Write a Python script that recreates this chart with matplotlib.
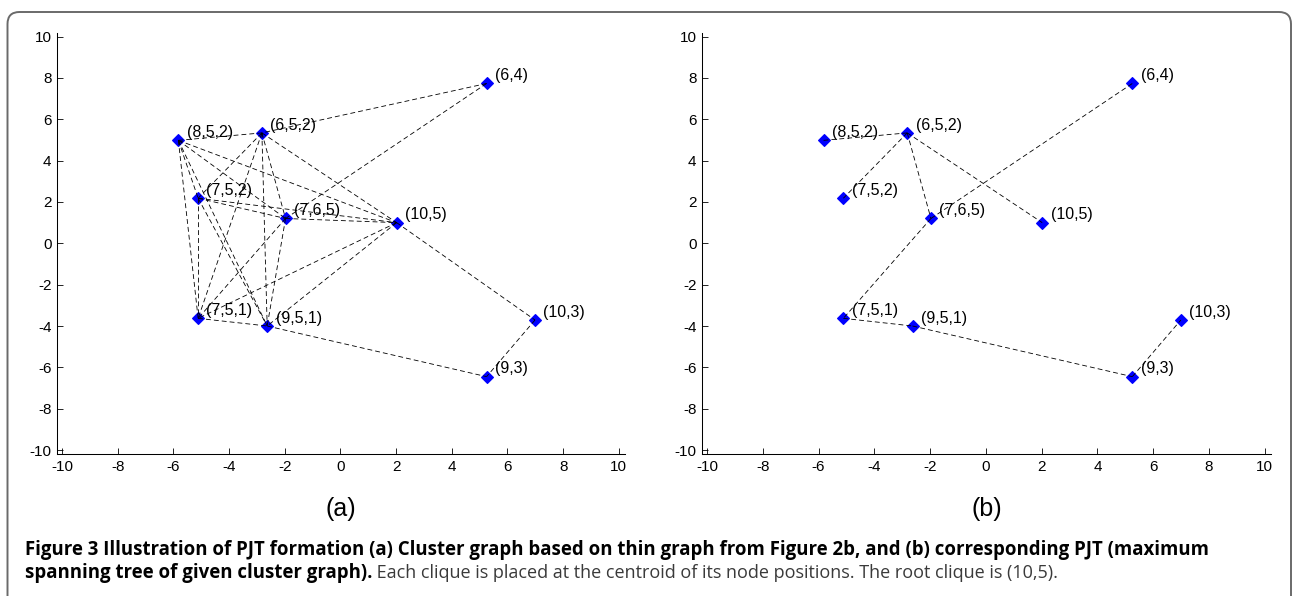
import itertools
import matplotlib
matplotlib.use("Agg")
import matplotlib.pyplot as plt
from matplotlib.patches import FancyBboxPatch
from matplotlib.transforms import IdentityTransform

plt.rcParams['font.family'] = ['Liberation Sans', 'DejaVu Sans']
plt.rcParams['lines.scale_dashes'] = False
plt.rcParams['axes.unicode_minus'] = False

# clique labels and their centroid positions
cliques = ['(8,5,2)', '(6,5,2)', '(7,5,2)', '(7,6,5)', '(10,5)',
           '(6,4)', '(7,5,1)', '(9,5,1)', '(10,3)', '(9,3)']
pos_x = [-5.82, -2.82, -5.11, -1.97, 2.02, 5.25, -5.11, -2.63, 6.99, 5.25]
pos_y = [4.98, 5.34, 2.18, 1.20, 1.00, 7.73, -3.63, -4.00, -3.71, -6.45]

# cluster graph: cliques sharing variable 5 are all linked, plus a few others
share5 = ['(8,5,2)', '(6,5,2)', '(7,5,2)', '(7,6,5)', '(10,5)', '(7,5,1)', '(9,5,1)']
edges_a = list(itertools.combinations(share5, 2)) + [
    ('(6,4)', '(6,5,2)'), ('(6,4)', '(7,6,5)'), ('(10,5)', '(10,3)'),
    ('(10,3)', '(9,3)'), ('(9,5,1)', '(9,3)')]

# maximum spanning tree
edges_b = [('(8,5,2)', '(6,5,2)'), ('(6,5,2)', '(7,5,2)'), ('(6,5,2)', '(7,6,5)'),
           ('(6,5,2)', '(10,5)'), ('(7,6,5)', '(6,4)'), ('(7,6,5)', '(7,5,1)'),
           ('(7,5,1)', '(9,5,1)'), ('(9,5,1)', '(9,3)'), ('(9,3)', '(10,3)')]

ticks = [-10, -8, -6, -4, -2, 0, 2, 4, 6, 8, 10]
idx = {c: i for i, c in enumerate(cliques)}

fig = plt.figure(figsize=(12.92, 5.96), dpi=100)
ax_a = fig.add_axes([0.0441, 0.2383, 0.4396, 0.7059])
ax_b = fig.add_axes([0.5433, 0.2383, 0.4404, 0.7059])


def draw(ax, edges, label):
    ax.plot(pos_x, pos_y, linestyle='none', marker='D', ms=6.2,
            mfc='#0000ff', mec='#0000ff', mew=0.8, zorder=2)
    for a, b in edges:
        i, j = idx[a], idx[b]
        ax.plot([pos_x[i], pos_x[j]], [pos_y[i], pos_y[j]], color='black',
                lw=0.6, linestyle=(0, (3.5, 2.2)), zorder=3)
    for c, x, y in zip(cliques, pos_x, pos_y):
        ax.text(x + 0.3, y + 0.38, c, fontsize=11.5, va='center', ha='left', zorder=4)
    ax.set_xlim(-10.18, 10.22)
    ax.set_ylim(-10.19, 10.16)
    ax.set_xticks(ticks)
    ax.set_yticks(ticks)
    ax.spines['top'].set_visible(False)
    ax.spines['right'].set_visible(False)
    for s in ['left', 'bottom']:
        ax.spines[s].set_linewidth(0.75)
    ax.tick_params(direction='in', length=4, width=0.6, labelsize=11, pad=4)
    ax.set_xlabel(label, fontsize=18, labelpad=17)


draw(ax_a, edges_a, '(a)')
draw(ax_b, edges_b, '(b)')

# rounded frame around the figure panel
frame = FancyBboxPatch((7.5, -30), 1283.5, 614, boxstyle='round,pad=0,rounding_size=12',
                       transform=IdentityTransform(), fill=False,
                       edgecolor='#6a6a6a', lw=1.4)
fig.patches.append(frame)

cap_font = ['Open Sans', 'DejaVu Sans']
fig.text(0.0193, 0.0685, 'Figure 3 Illustration of PJT formation (a) Cluster graph based on '
         'thin graph from Figure 2b, and (b) corresponding PJT (maximum',
         fontsize=13.4, fontweight='bold', family=cap_font, va='baseline')
t2 = fig.text(0.0193, 0.030, 'spanning tree of given cluster graph).',
              fontsize=13.4, fontweight='bold', family=cap_font, va='baseline')
rest = fig.text(0, 0, ' Each clique is placed at the centroid of its node positions. '
                'The root clique is (10,5).', fontsize=13.0, family=cap_font,
                color='#3a3a3a', va='baseline')
fig.canvas.draw()
bb = t2.get_window_extent()
rest.set_transform(IdentityTransform())
rest.set_position((bb.x1, t2.get_transform().transform(t2.get_position())[1]))

fig.savefig('out.png', dpi=100)
